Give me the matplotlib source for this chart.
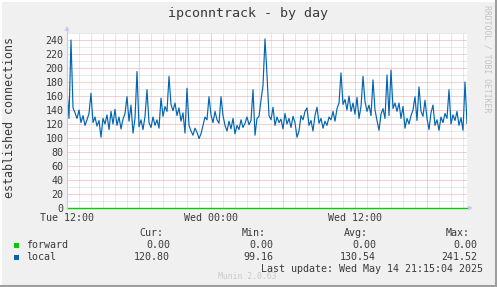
import numpy as np
import matplotlib
matplotlib.use("Agg")
import matplotlib.pyplot as plt
from matplotlib.lines import Line2D
from matplotlib.patches import Rectangle, Polygon

# ---------------- data ----------------
title = "ipconntrack - by day"
ylabel = "established connections"
series_names = ["forward", "local"]
series_colors = ["#00CC00", "#0066B3"]
xtick_hours = [0, 12, 24]
xtick_labels = ["Tue 12:00", "Wed 00:00", "Wed 12:00"]
ytick_values = [0, 20, 40, 60, 80, 100, 120, 140, 160, 180, 200, 220, 240]

# 10-minute samples starting Tue 12:00 (local established connections)
local_values = [
    169, 128, 240, 143, 136, 128, 140, 122, 132, 118,
    126, 135, 164, 122, 130, 117, 125, 101, 128, 120,
    133, 112, 138, 120, 141, 118, 130, 113, 127, 135,
    159, 124, 147, 107, 128, 195, 116, 126, 112, 131,
    169, 122, 115, 130, 118, 126, 114, 157, 131, 145,
    138, 188, 148, 139, 150, 132, 143, 124, 136, 107,
    171, 118, 110, 104, 114, 108, 99.16, 106, 118, 130,
    126, 159, 133, 122, 138, 126, 121, 159, 132, 118,
    110, 124, 113, 128, 106, 118, 112, 126, 115, 121,
    130, 119, 125, 169, 104, 128, 131, 154, 175, 241.52,
    190, 132, 126, 144, 118, 130, 122, 127, 113, 135,
    120, 128, 115, 131, 122, 101, 110, 132, 126, 138,
    143, 118, 125, 110, 132, 144, 121, 128, 114, 124,
    118, 130, 126, 138, 124, 142, 150, 193, 148, 155,
    140, 160, 138, 150, 134, 158, 128, 145, 188, 152,
    138, 147, 132, 183, 140, 125, 111, 134, 142, 128,
    190, 132, 197, 142, 150, 138, 150, 128, 145, 114,
    128, 120, 132, 140, 159, 125, 173, 138, 131, 154,
    128, 112, 136, 147, 118, 126, 111, 130, 122, 135,
    128, 169, 120, 133, 125, 138, 118, 129, 111, 180,
    120.80,
]
forward_values = [0.0] * len(local_values)

legend_headers = ["Cur:", "Min:", "Avg:", "Max:"]
legend_forward = ["0.00", "0.00", "0.00", "0.00"]
legend_local = ["120.80", "99.16", "130.54", "241.52"]
last_update = "Last update: Wed May 14 21:15:04 2025"
munin_version = "Munin 2.0.63"
rrd_credit = "RRDTOOL / TOBI OETIKER"

# ---------------- figure ----------------
W, H = 497, 287
DPI = 100
fig = plt.figure(figsize=(W / DPI, H / DPI), dpi=DPI, facecolor="#F0F0F0")

def fx(px):
    return px / W

def fy(py):
    return 1 - py / H

MONO = "DejaVu Sans Mono"
TXT = "#3a3a3a"

# plot area
x0, x1, ytop, ybot = 67, 467, 33, 208
ax = fig.add_axes([fx(x0), fy(ybot), (x1 - x0) / W, (ybot - ytop) / H])
ax.set_facecolor("white")
for s in ax.spines.values():
    s.set_visible(False)

t_step = 1 / 6.0  # hours
times = np.arange(len(local_values)) * t_step
ax.set_xlim(0, 100 / 3.0)
ax.set_ylim(0, 250)

# grid lines
dot = (0, (1, 1))
for h in np.arange(0, 34, 1):
    if h % 6 != 0:
        ax.axvline(h, color="#D2D2D2", lw=0.72, ls=dot, zorder=1)
for v in np.arange(10, 251, 20):
    ax.axhline(v, color="#D2D2D2", lw=0.72, ls=dot, zorder=1)
for h in np.arange(6, 34, 6):
    ax.axvline(h, color="#F2A0A0", lw=0.72, ls=dot, zorder=1.1)
for v in np.arange(20, 241, 20):
    ax.axhline(v, color="#F2A0A0", lw=0.72, ls=dot, zorder=1.1)

ax.plot(times, local_values, color=series_colors[1], lw=0.85, zorder=3)
ax.plot(times, forward_values, color=series_colors[0], lw=1.0, zorder=4, clip_on=False)

ax.set_xticks(xtick_hours)
ax.set_xticklabels(xtick_labels)
ax.set_yticks(ytick_values)
ax.set_yticklabels([str(v) for v in ytick_values])
ax.tick_params(axis="both", length=0, labelsize=7.2, colors=TXT)
ax.tick_params(axis="x", pad=3.4)
ax.tick_params(axis="y", pad=2.6)
for lab in ax.get_xticklabels() + ax.get_yticklabels():
    lab.set_fontfamily(MONO)

# axis line & arrows
fig.add_artist(Line2D([fx(x0), fx(x0)], [fy(ybot), fy(ytop - 2)], color="#C8C8F0", lw=0.8))
fig.add_artist(Polygon([[fx(64.5), fy(31)], [fx(69.5), fy(31)], [fx(67), fy(26)]],
                       closed=True, color="#C8C8F8", lw=0))
fig.add_artist(Polygon([[fx(468), fy(205.5)], [fx(468), fy(210.5)], [fx(473), fy(208)]],
                       closed=True, color="#C8C8F8", lw=0))

# title & labels
fig.text(fx(248), fy(13), title, ha="center", va="center", fontsize=9.6,
         family=MONO, color=TXT)
fig.text(fx(10), fy(118), ylabel, ha="center", va="center", rotation=90,
         fontsize=8.4, family=MONO, color=TXT)
fig.text(fx(487), fy(5), rrd_credit, ha="center", va="top", rotation=270,
         fontsize=5.9, family=MONO, color="#C4C4C4")

# legend block
hdr_x = [163, 266, 368, 470]
val_x = [170, 273, 376, 477]
for x, t in zip(hdr_x, legend_headers):
    fig.text(fx(x), fy(233), t, ha="right", va="center", fontsize=7.2, family=MONO, color=TXT)
for row_y, name, color, vals in [(245, series_names[0], series_colors[0], legend_forward),
                                 (257, series_names[1], series_colors[1], legend_local)]:
    fig.add_artist(Rectangle((fx(14), fy(row_y + 2.5)), 5 / W, 5 / H, color=color, lw=0))
    fig.text(fx(26), fy(row_y), name, ha="left", va="center", fontsize=7.2, family=MONO, color=TXT)
    for x, t in zip(val_x, vals):
        fig.text(fx(x), fy(row_y), t, ha="right", va="center", fontsize=7.2, family=MONO, color=TXT)
fig.text(fx(483), fy(269), last_update, ha="right", va="center", fontsize=7.2,
         family=MONO, color=TXT)
fig.text(fx(247), fy(276.5), munin_version, ha="center", va="center", fontsize=5.9,
         family=MONO, color="#CACACA")

# frame
fig.add_artist(Line2D([fx(0.5), fx(0.5)], [0, 1], color="#FFFFFF", lw=1.4))
fig.add_artist(Line2D([0, 1], [fy(0.5), fy(0.5)], color="#FFFFFF", lw=1.4))
fig.add_artist(Line2D([fx(495.5), fx(495.5)], [0, 1], color="#9E9E9E", lw=2.2))
fig.add_artist(Line2D([0, 1], [fy(285.5), fy(285.5)], color="#9E9E9E", lw=2.2))

fig.savefig("out.png", dpi=DPI, facecolor=fig.get_facecolor())
